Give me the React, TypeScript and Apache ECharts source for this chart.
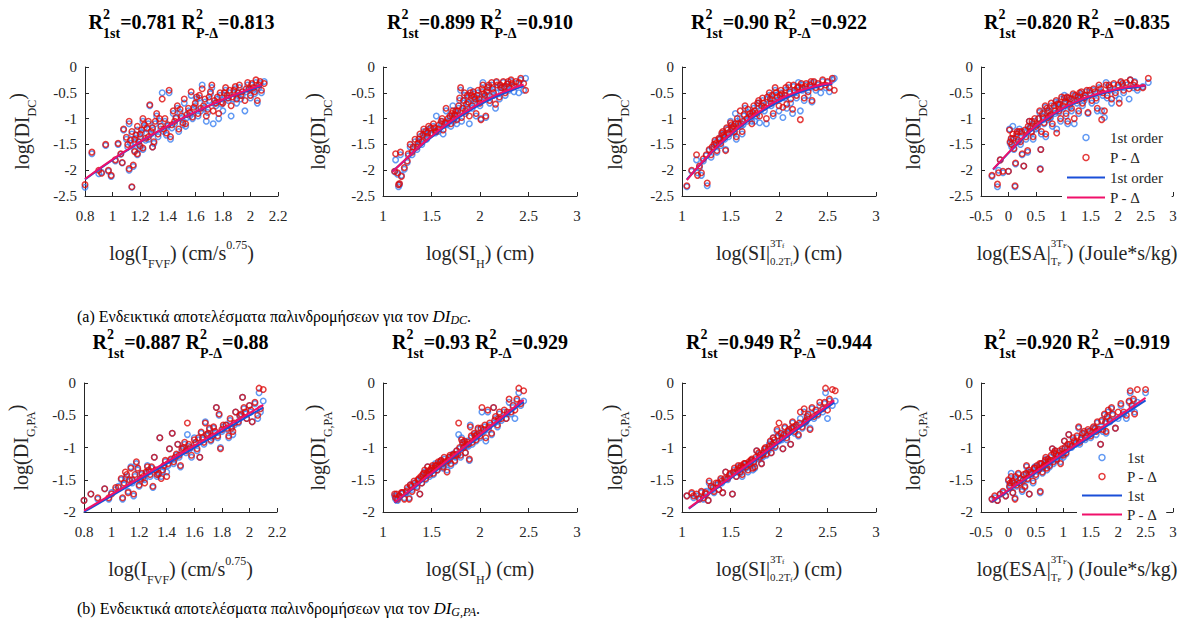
import React, { useEffect, useRef } from 'react';
import * as echarts from 'echarts';

const SERIF = "'Liberation Serif', 'Times New Roman', serif";
const TXT = '#262626';
const BLUE_PT = '#3a7ff0';
const RED_PT = '#dd0a0a';
const BLUE_LN = '#1a4fd8';
const PINK_LN = '#f0106a';

// ---- titles ----
const r2First = ['0.781', '0.899', '0.90', '0.820', '0.887', '0.93', '0.949', '0.920'];
const r2PDelta = ['0.813', '0.910', '0.922', '0.835', '0.88', '0.929', '0.944', '0.919'];

// ---- axes ----
const xRanges = [
  [0.8, 2.2, 0.2],
  [1, 3, 0.5],
  [1, 3, 0.5],
  [-0.5, 3, 0.5],
];
const yRanges = [
  [-2.5, 0, 0.5],
  [-2, 0, 0.5],
];

// ---- scatter points: [x, y (1st order), y (P-Delta)] ----
const panel1 = [
  [0.80, -2.33, -2.28], [0.85, -1.68, -1.65], [0.90, -2.07, -2.00], [0.92, -2.04, -2.06], [0.95, -1.52, -1.50],
  [0.97, -2.02, -2.00], [0.99, -2.12, -2.10], [1.02, -1.82, -1.80], [1.04, -1.50, -1.48], [1.06, -1.69, -1.68],
  [1.07, -1.86, -1.85], [1.12, -2.00, -1.97], [1.14, -2.33, -2.32], [1.15, -1.93, -1.90], [1.16, -1.62, -1.64],
  [1.18, -1.70, -1.68], [1.20, -1.58, -1.53], [1.22, -1.60, -1.57], [1.29, -1.55, -1.55],
  [1.08, -1.22, -1.20], [1.10, -1.40, -1.36], [1.12, -1.10, -1.05], [1.14, -1.30, -1.25], [1.16, -1.45, -1.40],
  [1.18, -1.22, -1.15], [1.20, -1.35, -1.30], [1.22, -1.05, -1.00], [1.24, -1.42, -1.38], [1.25, -1.20, -1.18],
  [1.26, -1.40, -1.35], [1.27, -0.75, -0.73], [1.28, -1.30, -1.25], [1.30, -1.48, -1.45], [1.31, -1.10, -1.05],
  [1.32, -0.95, -0.90], [1.33, -1.35, -1.30], [1.35, -1.20, -1.15], [1.36, -0.50, -0.62], [1.37, -1.25, -1.20],
  [1.38, -1.05, -1.00], [1.40, -1.15, -1.12], [1.41, -0.50, -0.45], [1.42, -1.40, -1.35], [1.44, -0.90, -0.85],
  [1.45, -1.10, -1.05], [1.46, -1.00, -0.98], [1.47, -0.80, -0.75], [1.48, -1.25, -1.20], [1.50, -1.00, -0.95],
  [1.52, -0.70, -0.62], [1.53, -1.15, -1.10], [1.55, -0.85, -0.80], [1.56, -0.95, -0.88], [1.57, -0.55, -0.48],
  [1.58, -1.00, -0.97], [1.60, -0.75, -0.70], [1.62, -0.95, -0.90], [1.63, -0.60, -0.55], [1.64, -0.85, -0.80],
  [1.65, -0.35, -0.42], [1.66, -0.80, -0.75], [1.68, -1.05, -0.95], [1.70, -0.65, -0.58], [1.72, -0.40, -0.35],
  [1.73, -1.10, -0.85], [1.74, -0.70, -0.65], [1.75, -0.75, -0.70], [1.77, -1.00, -0.90], [1.78, -0.55, -0.50],
  [1.80, -0.85, -0.70], [1.82, -0.45, -0.40], [1.83, -0.60, -0.55], [1.84, -0.65, -0.60], [1.86, -0.95, -0.75],
  [1.88, -0.50, -0.45], [1.90, -0.70, -0.62], [1.91, -0.55, -0.50], [1.92, -0.40, -0.35], [1.94, -0.55, -0.48],
  [1.96, -0.85, -0.65], [1.98, -0.35, -0.30], [1.99, -0.45, -0.42], [2.00, -0.60, -0.55], [2.02, -0.45, -0.40],
  [2.04, -0.30, -0.25], [2.05, -0.70, -0.65], [2.06, -0.40, -0.35], [2.08, -0.50, -0.45], [2.10, -0.28, -0.32],
  [1.11, -1.55, -1.50], [1.13, -1.48, -1.42], [1.17, -1.38, -1.32], [1.19, -1.50, -1.45], [1.21, -1.28, -1.22],
  [1.23, -1.18, -1.12], [1.26, -1.10, -1.05], [1.29, -1.22, -1.18], [1.34, -1.05, -1.00], [1.39, -1.32, -1.28],
  [1.43, -1.18, -1.12], [1.49, -0.88, -0.82], [1.51, -1.12, -1.08], [1.54, -0.98, -0.92], [1.59, -0.82, -0.78],
  [1.61, -0.62, -0.58], [1.67, -0.68, -0.62], [1.69, -0.88, -0.82], [1.71, -0.52, -0.48], [1.76, -0.62, -0.58],
  [1.79, -0.72, -0.68], [1.81, -0.55, -0.50], [1.85, -0.50, -0.45], [1.87, -0.62, -0.58], [1.89, -0.42, -0.38],
  [1.93, -0.62, -0.55], [1.97, -0.48, -0.42], [2.01, -0.35, -0.32], [2.03, -0.52, -0.48], [2.07, -0.32, -0.28],
];
const panel2 = [
  [1.12, -2.03, -2.02], [1.13, -1.80, -1.68], [1.15, -2.08, -2.05], [1.16, -2.32, -2.28], [1.17, -2.28, -2.26],
  [1.18, -1.70, -1.65], [1.19, -2.10, -2.12], [1.22, -1.98, -1.95], [1.25, -1.85, -1.82], [1.28, -1.55, -1.50],
  [1.30, -1.70, -1.65], [1.33, -1.45, -1.40], [1.35, -1.60, -1.55], [1.38, -1.35, -1.30], [1.40, -1.50, -1.45],
  [1.42, -1.25, -1.20], [1.45, -1.40, -1.35], [1.47, -1.20, -1.15], [1.50, -1.30, -1.28], [1.52, -1.15, -1.10],
  [1.55, -0.95, -1.25], [1.57, -1.25, -1.20], [1.60, -1.10, -1.05], [1.62, -1.30, -1.22], [1.65, -0.85, -0.80],
  [1.67, -1.05, -1.00], [1.70, -1.15, -1.10], [1.72, -0.75, -0.85], [1.74, -0.95, -0.92], [1.76, -1.10, -1.02],
  [1.78, -0.80, -0.75], [1.80, -0.45, -0.40], [1.81, -1.05, -0.98], [1.83, -0.70, -0.65], [1.85, -0.90, -0.85],
  [1.87, -0.60, -0.55], [1.89, -1.10, -0.95], [1.90, -0.45, -0.50], [1.92, -0.80, -0.75], [1.94, -0.65, -0.58],
  [1.96, -0.95, -0.90], [1.98, -0.50, -0.45], [2.00, -0.75, -0.70], [2.01, -1.00, -1.02], [2.03, -0.30, -0.35],
  [2.05, -0.60, -0.55], [2.06, -0.98, -0.95], [2.08, -0.45, -0.40], [2.10, -0.70, -0.65], [2.12, -0.35, -0.30],
  [2.14, -0.55, -0.50], [2.16, -0.80, -0.72], [2.18, -0.40, -0.35], [2.20, -0.62, -0.58], [2.22, -0.48, -0.40],
  [2.24, -0.30, -0.28], [2.26, -0.55, -0.50], [2.28, -0.38, -0.33], [2.30, -0.45, -0.40], [2.32, -0.28, -0.25],
  [2.35, -0.48, -0.38], [2.37, -0.32, -0.28], [2.40, -0.50, -0.30], [2.42, -0.25, -0.22], [2.45, -0.45, -0.32],
  [2.47, -0.22, -0.45], [1.36, -1.52, -1.48], [1.44, -1.28, -1.25], [1.53, -1.22, -1.18], [1.64, -1.12, -1.08],
  [1.69, -0.98, -0.95], [1.75, -0.88, -0.85], [1.86, -0.78, -0.72], [1.95, -0.70, -0.62], [2.04, -0.58, -0.52],
  [1.26, -1.72, -1.68], [1.31, -1.58, -1.55], [1.37, -1.45, -1.40], [1.41, -1.38, -1.32], [1.46, -1.32, -1.28],
  [1.49, -1.22, -1.18], [1.54, -1.28, -1.25], [1.58, -1.18, -1.12], [1.61, -1.05, -1.00], [1.66, -1.12, -1.08],
  [1.71, -0.95, -0.90], [1.73, -1.05, -1.00], [1.77, -0.92, -0.85], [1.79, -0.65, -0.60], [1.82, -0.85, -0.80],
  [1.84, -0.55, -0.50], [1.88, -0.72, -0.68], [1.91, -0.62, -0.55], [1.93, -0.52, -0.48], [1.97, -0.60, -0.55],
  [1.99, -0.68, -0.62], [2.02, -0.48, -0.42], [2.07, -0.55, -0.48], [2.09, -0.38, -0.35], [2.13, -0.48, -0.42],
  [2.17, -0.30, -0.28], [2.21, -0.40, -0.35], [2.25, -0.42, -0.38], [2.29, -0.32, -0.28], [2.33, -0.38, -0.32],
];
const panel3 = [
  [1.05, -2.32, -2.30], [1.10, -2.02, -2.00], [1.15, -1.80, -1.70], [1.16, -2.05, -2.10], [1.18, -1.95, -1.92],
  [1.20, -2.10, -2.05], [1.26, -2.30, -2.25], [1.28, -1.62, -1.60], [1.30, -1.75, -1.70], [1.33, -1.55, -1.50],
  [1.36, -1.65, -1.62], [1.38, -1.40, -1.38], [1.40, -1.52, -1.48], [1.42, -1.30, -1.25], [1.45, -1.60, -1.62],
  [1.46, -1.20, -1.18], [1.48, -1.35, -1.30], [1.50, -1.05, -1.08], [1.52, -1.25, -1.20], [1.55, -0.90, -1.10],
  [1.56, -1.40, -1.35], [1.58, -1.15, -1.10], [1.60, -1.00, -0.85], [1.62, -1.30, -1.25], [1.65, -0.80, -0.75],
  [1.67, -1.05, -1.00], [1.70, -0.95, -0.90], [1.72, -1.05, -1.10], [1.75, -1.05, -0.85], [1.78, -0.75, -0.70],
  [1.80, -1.08, -0.95], [1.83, -0.65, -0.60], [1.85, -0.85, -0.78], [1.87, -1.10, -1.00], [1.90, -0.55, -0.50],
  [1.92, -0.75, -0.70], [1.94, -0.95, -0.90], [1.96, -0.45, -0.40], [1.98, -0.65, -0.58], [2.00, -0.85, -0.75],
  [2.02, -0.50, -0.45], [2.04, -0.98, -0.78], [2.06, -0.60, -0.55], [2.08, -0.80, -0.72], [2.10, -0.40, -0.35],
  [2.12, -0.70, -0.62], [2.14, -0.90, -0.82], [2.16, -0.50, -0.45], [2.18, -0.60, -0.55], [2.20, -0.30, -0.38],
  [2.22, -0.85, -1.02], [2.24, -0.45, -0.40], [2.26, -0.65, -0.60], [2.28, -0.35, -0.32], [2.30, -0.55, -0.48],
  [2.32, -0.40, -0.35], [2.34, -0.68, -0.65], [2.36, -0.30, -0.28], [2.38, -0.45, -0.40], [2.40, -0.35, -0.32],
  [2.43, -0.50, -0.38], [2.45, -0.28, -0.25], [2.48, -0.40, -0.35], [2.50, -0.30, -0.28], [2.52, -0.48, -0.40],
  [2.55, -0.25, -0.22], [2.57, -0.22, -0.45], [1.34, -1.45, -1.42], [1.43, -1.38, -1.32], [1.53, -1.18, -1.15],
  [1.63, -1.12, -1.05], [1.73, -0.92, -0.88], [1.82, -0.82, -0.75], [1.91, -0.68, -0.62], [2.01, -0.62, -0.55],
  [1.22, -1.82, -1.78], [1.25, -1.72, -1.70], [1.31, -1.58, -1.55], [1.35, -1.52, -1.48], [1.39, -1.45, -1.40],
  [1.41, -1.32, -1.28], [1.44, -1.40, -1.35], [1.47, -1.28, -1.22], [1.51, -1.18, -1.12], [1.54, -1.28, -1.25],
  [1.57, -1.05, -1.00], [1.61, -1.15, -1.10], [1.64, -0.95, -0.92], [1.68, -0.88, -0.82], [1.71, -1.00, -0.95],
  [1.74, -0.80, -0.75], [1.77, -0.95, -0.90], [1.79, -0.70, -0.65], [1.84, -0.75, -0.70], [1.88, -0.62, -0.58],
  [1.93, -0.62, -0.55], [1.97, -0.55, -0.50], [2.03, -0.58, -0.52], [2.07, -0.45, -0.40], [2.11, -0.52, -0.48],
  [2.15, -0.38, -0.35], [2.19, -0.45, -0.40], [2.23, -0.35, -0.32], [2.27, -0.42, -0.38], [2.33, -0.32, -0.28],
];
const panel4 = [
  [-0.30, -2.12, -2.10], [-0.20, -2.32, -2.27], [-0.18, -2.00, -2.05], [-0.15, -1.80, -1.80], [-0.10, -2.05, -2.02],
  [0.00, -2.02, -2.02], [0.02, -1.20, -1.22], [0.05, -1.40, -1.38], [0.06, -1.55, -1.50], [0.08, -1.15, -1.30],
  [0.10, -1.60, -1.58], [0.12, -2.32, -2.30], [0.13, -1.88, -1.86], [0.15, -1.35, -1.30], [0.18, -1.45, -1.42],
  [0.20, -1.20, -1.25], [0.25, -1.70, -1.68], [0.28, -1.92, -1.92], [0.30, -1.25, -1.22], [0.35, -1.65, -1.62],
  [0.38, -1.05, -1.05], [0.40, -1.15, -1.18], [0.45, -1.40, -1.35], [0.50, -1.20, -1.15], [0.55, -1.00, -1.00],
  [0.58, -1.97, -1.98], [0.59, -1.60, -1.60], [0.60, -1.30, -1.25], [0.62, -0.95, -0.90], [0.65, -1.10, -1.08],
  [0.68, -1.35, -1.30], [0.70, -0.85, -0.80], [0.75, -1.00, -0.95], [0.78, -0.75, -0.70], [0.80, -1.15, -1.10],
  [0.85, -0.90, -0.85], [0.88, -1.20, -1.28], [0.90, -0.70, -0.72], [0.95, -1.05, -1.00], [1.00, -0.80, -0.75],
  [1.02, -0.55, -0.60], [1.05, -0.95, -0.90], [1.08, -1.10, -1.05], [1.10, -0.65, -0.60], [1.15, -0.85, -0.80],
  [1.18, -0.55, -0.52], [1.20, -1.10, -1.00], [1.25, -0.70, -0.65], [1.28, -0.90, -0.85], [1.30, -0.55, -0.50],
  [1.35, -0.75, -0.70], [1.40, -0.60, -0.55], [1.45, -0.90, -0.88], [1.48, -0.50, -0.45], [1.52, -0.70, -0.65],
  [1.55, -0.45, -0.42], [1.60, -0.65, -0.60], [1.62, -0.85, -0.80], [1.65, -0.40, -0.35], [1.70, -0.85, -1.02],
  [1.72, -0.55, -0.50], [1.75, -0.98, -0.85], [1.78, -0.30, -0.35], [1.80, -0.60, -0.55], [1.85, -0.45, -0.40],
  [1.88, -0.70, -0.62], [1.92, -0.35, -0.32], [1.95, -0.55, -0.50], [2.00, -0.40, -0.35], [2.02, -0.62, -0.70],
  [2.05, -0.30, -0.28], [2.10, -0.50, -0.45], [2.15, -0.35, -0.30], [2.20, -0.62, -0.42], [2.22, -0.25, -0.25],
  [2.28, -0.40, -0.35], [2.30, -0.28, -0.30], [2.35, -0.45, -0.40], [2.45, -0.38, -0.40], [2.55, -0.30, -0.22],
  [0.22, -1.50, -1.45], [0.42, -1.28, -1.25], [0.72, -1.02, -0.98], [0.92, -0.88, -0.85], [1.12, -0.78, -0.72],
  [0.03, -1.48, -1.45], [0.09, -1.42, -1.38], [0.16, -1.28, -1.25], [0.24, -1.28, -1.25], [0.32, -1.40, -1.35],
  [0.36, -1.20, -1.15], [0.43, -1.10, -1.05], [0.48, -1.05, -1.00], [0.53, -1.18, -1.12], [0.57, -0.88, -0.85],
  [0.63, -1.02, -0.98], [0.67, -0.78, -0.75], [0.73, -0.88, -0.85], [0.77, -0.98, -0.92], [0.83, -0.80, -0.75],
  [0.87, -0.68, -0.65], [0.93, -0.78, -0.72], [0.97, -0.62, -0.58], [1.03, -0.72, -0.68], [1.07, -0.60, -0.58],
  [1.13, -0.68, -0.62], [1.22, -0.58, -0.55], [1.27, -0.62, -0.58], [1.33, -0.52, -0.48], [1.38, -0.65, -0.60],
  [1.43, -0.48, -0.45], [1.58, -0.52, -0.48], [1.68, -0.48, -0.42], [1.83, -0.38, -0.35], [2.08, -0.35, -0.32],
];
const panel5 = [
  [0.80, -1.82, -1.82], [0.85, -1.72, -1.72], [0.90, -1.80, -1.78], [0.95, -1.64, -1.64], [0.98, -1.80, -1.78],
  [1.00, -1.70, -1.72], [1.03, -1.65, -1.62], [1.05, -1.60, -1.62], [1.07, -1.50, -1.48], [1.08, -1.80, -1.78],
  [1.10, -1.48, -1.38], [1.12, -1.68, -1.70], [1.14, -1.30, -1.32], [1.15, -1.55, -1.50], [1.16, -1.75, -1.72],
  [1.18, -1.25, -1.22], [1.20, -1.60, -1.58], [1.22, -1.42, -1.40], [1.24, -1.50, -1.55], [1.26, -1.28, -1.30],
  [1.28, -1.45, -1.42], [1.30, -1.62, -1.60], [1.31, -1.15, -1.15], [1.32, -1.35, -1.35], [1.35, -0.85, -0.85],
  [1.36, -1.45, -1.48], [1.38, -1.30, -1.28], [1.40, -1.38, -1.45], [1.42, -1.02, -1.02], [1.44, -0.78, -0.78],
  [1.45, -1.25, -1.22], [1.47, -1.12, -1.10], [1.48, -0.95, -0.95], [1.50, -1.30, -1.28], [1.52, -1.02, -1.00],
  [1.55, -0.80, -0.62], [1.56, -0.98, -0.95], [1.58, -1.15, -1.12], [1.60, -0.85, -0.88], [1.62, -1.05, -1.02],
  [1.64, -1.15, -1.15], [1.65, -0.78, -0.76], [1.67, -0.95, -0.92], [1.68, -0.60, -0.62], [1.70, -0.80, -0.78],
  [1.72, -0.90, -0.88], [1.74, -0.70, -0.68], [1.76, -0.38, -0.38], [1.77, -0.85, -0.82], [1.78, -0.50, -0.48],
  [1.79, -1.00, -1.02], [1.80, -0.75, -0.72], [1.83, -0.65, -0.65], [1.85, -0.85, -0.82], [1.87, -0.68, -0.70],
  [1.88, -0.80, -0.75], [1.90, -0.45, -0.45], [1.92, -0.62, -0.60], [1.94, -0.50, -0.48], [1.95, -0.22, -0.22],
  [1.96, -0.40, -0.38], [1.98, -0.55, -0.55], [2.00, -0.35, -0.35], [2.02, -0.60, -0.60], [2.04, -0.32, -0.30],
  [2.06, -0.55, -0.50], [2.07, -0.15, -0.08], [2.08, -0.45, -0.40], [2.10, -0.28, -0.10], [1.21, -1.52, -1.48],
  [1.27, -1.38, -1.35], [1.34, -1.42, -1.40], [1.46, -1.18, -1.15], [1.54, -1.08, -1.05], [1.66, -0.88, -0.85],
  [1.09, -1.58, -1.55], [1.11, -1.45, -1.42], [1.13, -1.52, -1.50], [1.17, -1.45, -1.42], [1.19, -1.35, -1.32],
  [1.23, -1.48, -1.45], [1.25, -1.40, -1.38], [1.29, -1.32, -1.30], [1.33, -1.45, -1.42], [1.37, -1.38, -1.35],
  [1.39, -1.22, -1.20], [1.41, -1.28, -1.25], [1.43, -1.20, -1.18], [1.49, -1.15, -1.12], [1.51, -1.05, -1.02],
  [1.53, -0.95, -0.92], [1.57, -1.02, -1.00], [1.61, -0.95, -0.92], [1.63, -0.88, -0.85], [1.69, -0.82, -0.80],
  [1.71, -0.72, -0.70], [1.73, -0.85, -0.82], [1.75, -0.78, -0.75], [1.81, -0.68, -0.65], [1.84, -0.72, -0.70],
  [1.86, -0.58, -0.55], [1.89, -0.65, -0.62], [1.93, -0.52, -0.50], [1.97, -0.48, -0.45], [2.01, -0.45, -0.42],
];
const panel6 = [
  [1.12, -1.75, -1.72], [1.13, -1.80, -1.78], [1.15, -1.82, -1.80], [1.17, -1.75, -1.75], [1.20, -1.70, -1.70],
  [1.22, -1.78, -1.80], [1.25, -1.65, -1.62], [1.27, -1.78, -1.80], [1.28, -1.58, -1.58], [1.30, -1.65, -1.68],
  [1.32, -1.55, -1.52], [1.35, -1.60, -1.62], [1.37, -1.50, -1.48], [1.38, -1.72, -1.72], [1.40, -1.55, -1.55],
  [1.42, -1.40, -1.40], [1.44, -1.50, -1.48], [1.46, -1.30, -1.30], [1.48, -1.45, -1.42], [1.50, -1.35, -1.32],
  [1.52, -1.42, -1.40], [1.54, -1.25, -1.28], [1.56, -1.35, -1.35], [1.58, -1.30, -1.28], [1.60, -1.20, -1.20],
  [1.62, -1.32, -1.30], [1.64, -1.25, -1.22], [1.66, -1.35, -1.38], [1.68, -1.18, -1.15], [1.70, -1.28, -1.25],
  [1.72, -1.10, -1.12], [1.74, -1.22, -1.20], [1.76, -1.05, -1.05], [1.78, -0.80, -0.62], [1.80, -1.15, -1.12],
  [1.81, -0.85, -0.88], [1.83, -1.00, -1.00], [1.85, -1.08, -1.08], [1.87, -0.90, -0.92], [1.89, -1.20, -1.18],
  [1.90, -0.65, -0.68], [1.92, -0.95, -0.92], [1.94, -0.80, -0.78], [1.96, -0.90, -0.88], [1.98, -0.72, -0.70],
  [2.00, -0.85, -0.82], [2.02, -0.45, -0.38], [2.04, -0.75, -0.72], [2.06, -0.90, -0.85], [2.08, -0.45, -0.42],
  [2.10, -0.65, -0.62], [2.12, -0.80, -0.78], [2.14, -0.38, -0.38], [2.16, -0.55, -0.52], [2.18, -0.68, -0.65],
  [2.20, -0.48, -0.45], [2.22, -0.58, -0.55], [2.25, -0.45, -0.42], [2.27, -0.55, -0.55], [2.30, -0.30, -0.25],
  [2.32, -0.48, -0.45], [2.34, -0.38, -0.35], [2.36, -0.55, -0.42], [2.38, -0.28, -0.25], [2.40, -0.15, -0.08],
  [2.42, -0.35, -0.32], [2.45, -0.28, -0.12], [1.47, -1.38, -1.36], [1.57, -1.25, -1.22], [1.67, -1.22, -1.20],
  [1.77, -1.12, -1.10], [1.86, -0.98, -0.95], [1.95, -0.85, -0.82], [2.05, -0.68, -0.65], [2.15, -0.62, -0.58],
  [1.14, -1.75, -1.72], [1.19, -1.72, -1.70], [1.24, -1.70, -1.68], [1.29, -1.62, -1.60], [1.33, -1.58, -1.55],
  [1.36, -1.52, -1.50], [1.39, -1.48, -1.45], [1.41, -1.45, -1.42], [1.43, -1.38, -1.35], [1.45, -1.42, -1.40],
  [1.49, -1.38, -1.35], [1.51, -1.30, -1.28], [1.53, -1.35, -1.32], [1.55, -1.30, -1.28], [1.59, -1.25, -1.22],
  [1.61, -1.28, -1.25], [1.63, -1.18, -1.15], [1.69, -1.15, -1.12], [1.73, -1.12, -1.10], [1.75, -1.15, -1.12],
  [1.79, -1.02, -1.00], [1.82, -0.95, -0.92], [1.84, -0.92, -0.90], [1.88, -0.98, -0.95], [1.91, -0.85, -0.82],
  [1.97, -0.82, -0.80], [2.01, -0.72, -0.70], [2.09, -0.72, -0.68], [2.19, -0.58, -0.55], [2.28, -0.48, -0.45],
];
const panel7 = [
  [1.05, -1.75, -1.75], [1.10, -1.72, -1.70], [1.15, -1.75, -1.72], [1.18, -1.78, -1.80], [1.20, -1.70, -1.68],
  [1.22, -1.80, -1.78], [1.25, -1.68, -1.72], [1.27, -1.82, -1.82], [1.28, -1.55, -1.52], [1.30, -1.62, -1.60],
  [1.33, -1.70, -1.68], [1.35, -1.58, -1.55], [1.38, -1.65, -1.65], [1.40, -1.50, -1.48], [1.42, -1.70, -1.70],
  [1.45, -1.38, -1.38], [1.47, -1.50, -1.48], [1.50, -1.42, -1.40], [1.52, -1.72, -1.72], [1.54, -1.35, -1.32],
  [1.56, -1.45, -1.45], [1.58, -1.30, -1.28], [1.60, -1.40, -1.38], [1.63, -1.32, -1.30], [1.65, -1.25, -1.25],
  [1.68, -1.38, -1.35], [1.70, -1.28, -1.25], [1.72, -1.20, -1.18], [1.75, -1.32, -1.30], [1.77, -1.05, -1.05],
  [1.80, -1.18, -1.15], [1.82, -1.25, -1.25], [1.85, -1.05, -1.02], [1.87, -1.12, -1.10], [1.90, -0.95, -0.98],
  [1.92, -1.08, -1.08], [1.94, -0.85, -0.85], [1.96, -1.00, -0.98], [1.98, -0.75, -0.72], [2.00, -0.90, -0.62],
  [2.02, -0.80, -0.78], [2.04, -1.02, -1.02], [2.06, -0.70, -0.68], [2.08, -0.88, -0.85], [2.10, -0.75, -0.72],
  [2.12, -0.95, -0.95], [2.14, -0.62, -0.60], [2.16, -0.78, -0.75], [2.18, -0.68, -0.65], [2.20, -0.82, -0.80],
  [2.22, -0.55, -0.45], [2.24, -0.70, -0.68], [2.26, -0.45, -0.40], [2.28, -0.60, -0.58], [2.30, -0.50, -0.48],
  [2.32, -0.70, -0.72], [2.34, -0.40, -0.38], [2.36, -0.55, -0.52], [2.38, -0.45, -0.42], [2.40, -0.50, -0.48],
  [2.42, -0.35, -0.30], [2.45, -0.45, -0.40], [2.47, -0.32, -0.30], [2.48, -0.15, -0.08], [2.50, -0.55, -0.42],
  [2.52, -0.28, -0.25], [2.55, -0.35, -0.10], [2.58, -0.28, -0.12], [1.62, -1.45, -1.42], [1.73, -1.35, -1.32],
  [1.83, -1.15, -1.12], [1.93, -0.98, -0.95], [2.03, -0.88, -0.85], [2.13, -0.72, -0.70], [2.27, -0.62, -0.60],
  [1.12, -1.78, -1.75], [1.24, -1.72, -1.70], [1.32, -1.65, -1.62], [1.37, -1.58, -1.55], [1.41, -1.55, -1.52],
  [1.44, -1.50, -1.48], [1.49, -1.45, -1.42], [1.53, -1.40, -1.38], [1.57, -1.38, -1.35], [1.59, -1.35, -1.32],
  [1.61, -1.30, -1.28], [1.64, -1.28, -1.25], [1.66, -1.32, -1.30], [1.69, -1.25, -1.22], [1.71, -1.22, -1.20],
  [1.74, -1.25, -1.22], [1.76, -1.18, -1.15], [1.79, -1.10, -1.08], [1.81, -1.15, -1.12], [1.84, -1.10, -1.08],
  [1.86, -1.02, -1.00], [1.89, -1.05, -1.02], [1.91, -0.92, -0.90], [1.95, -0.92, -0.88], [1.99, -0.85, -0.82],
  [2.05, -0.82, -0.80], [2.09, -0.78, -0.75], [2.15, -0.70, -0.68], [2.21, -0.65, -0.62], [2.29, -0.55, -0.52],
];
const panel8 = [
  [-0.30, -1.80, -1.80], [-0.20, -1.82, -1.82], [-0.15, -1.72, -1.72], [-0.05, -1.75, -1.75], [0.00, -1.52, -1.50],
  [0.02, -1.62, -1.60], [0.05, -1.40, -1.45], [0.08, -1.70, -1.70], [0.10, -1.50, -1.55], [0.12, -1.78, -1.80],
  [0.15, -1.60, -1.58], [0.18, -1.42, -1.40], [0.20, -1.55, -1.55], [0.25, -1.68, -1.65], [0.28, -1.45, -1.42],
  [0.30, -1.62, -1.60], [0.33, -1.30, -1.28], [0.35, -1.50, -1.48], [0.38, -1.72, -1.72], [0.40, -1.40, -1.38],
  [0.45, -1.55, -1.52], [0.48, -1.30, -1.32], [0.50, -1.45, -1.42], [0.55, -1.35, -1.35], [0.58, -1.70, -1.68],
  [0.60, -1.25, -1.25], [0.62, -1.40, -1.38], [0.65, -1.28, -1.28], [0.70, -1.35, -1.32], [0.72, -1.20, -1.18],
  [0.75, -1.30, -1.28], [0.78, -1.15, -1.12], [0.80, -1.02, -1.02], [0.82, -1.25, -1.22], [0.85, -1.05, -1.05],
  [0.88, -1.20, -1.18], [0.90, -1.15, -1.12], [0.95, -1.22, -1.25], [0.98, -1.05, -1.02], [1.00, -1.15, -1.12],
  [1.02, -0.90, -0.90], [1.05, -1.10, -1.08], [1.08, -0.98, -0.95], [1.10, -0.80, -0.80], [1.15, -1.00, -0.98],
  [1.20, -0.92, -0.90], [1.25, -0.85, -0.82], [1.28, -0.70, -0.68], [1.30, -0.95, -0.92], [1.35, -0.80, -0.78],
  [1.40, -0.88, -0.85], [1.45, -0.75, -0.72], [1.50, -0.85, -0.82], [1.55, -0.70, -0.68], [1.60, -0.80, -0.75],
  [1.62, -0.62, -0.60], [1.65, -0.72, -0.72], [1.68, -0.95, -0.95], [1.70, -0.60, -0.58], [1.72, -0.75, -0.72],
  [1.75, -0.50, -0.48], [1.78, -0.78, -0.75], [1.80, -0.55, -0.52], [1.82, -0.45, -0.42], [1.85, -0.60, -0.58],
  [1.88, -0.40, -0.38], [1.90, -0.50, -0.48], [1.95, -0.70, -0.70], [2.00, -0.55, -0.45], [2.05, -0.35, -0.32],
  [2.10, -0.48, -0.45], [2.15, -0.55, -0.50], [2.20, -0.30, -0.28], [2.22, -0.15, -0.12], [2.25, -0.40, -0.35],
  [2.28, -0.28, -0.25], [2.30, -0.45, -0.48], [2.35, -0.30, -0.10], [2.50, -0.15, -0.10], [0.68, -1.18, -1.15],
  [-0.25, -1.78, -1.75], [-0.10, -1.70, -1.68], [0.03, -1.58, -1.55], [0.07, -1.55, -1.52], [0.13, -1.48, -1.45],
  [0.22, -1.50, -1.48], [0.27, -1.52, -1.50], [0.32, -1.42, -1.40], [0.37, -1.38, -1.35], [0.42, -1.42, -1.40],
  [0.47, -1.35, -1.32], [0.52, -1.30, -1.28], [0.57, -1.28, -1.25], [0.63, -1.32, -1.30], [0.67, -1.22, -1.20],
  [0.73, -1.25, -1.22], [0.77, -1.22, -1.20], [0.83, -1.10, -1.08], [0.87, -1.12, -1.10], [0.93, -1.08, -1.05],
  [0.97, -1.12, -1.10], [1.03, -1.02, -1.00], [1.12, -0.98, -0.95], [1.18, -0.88, -0.85], [1.23, -0.95, -0.92],
  [1.33, -0.88, -0.85], [1.38, -0.78, -0.75], [1.48, -0.78, -0.75], [1.58, -0.72, -0.70], [1.77, -0.62, -0.60],
];
const panels = [panel1, panel2, panel3, panel4, panel5, panel6, panel7, panel8];

// ---- fitted regression lines: x, y (1st order), y (P-Delta) ----
const fitX = [
  [0.8, 1.0, 1.2, 1.4, 1.6, 1.8, 2.0, 2.08],
  [1.1, 1.3, 1.5, 1.7, 1.9, 2.1, 2.3, 2.45],
  [1.05, 1.2, 1.4, 1.6, 1.8, 2.0, 2.2, 2.4, 2.55],
  [-0.28, 0, 0.25, 0.5, 0.75, 1, 1.25, 1.5, 1.75, 2, 2.25, 2.5],
  [0.8, 2.1],
  [1.12, 2.45],
  [1.07, 2.57],
  [-0.3, 2.5],
];
const fitFirst = [
  [-2.18, -1.80, -1.46, -1.15, -0.88, -0.64, -0.44, -0.37],
  [-2.02, -1.68, -1.36, -1.08, -0.84, -0.63, -0.47, -0.37],
  [-2.18, -1.87, -1.49, -1.16, -0.89, -0.67, -0.50, -0.38, -0.33],
  [-1.99, -1.67, -1.40, -1.16, -0.97, -0.81, -0.68, -0.58, -0.50, -0.44, -0.40, -0.37],
  [-2.0, -0.38],
  [-1.86, -0.29],
  [-1.95, -0.30],
  [-1.84, -0.27],
];
const fitPDelta = [
  [-2.17, -1.79, -1.45, -1.14, -0.87, -0.63, -0.42, -0.35],
  [-2.03, -1.67, -1.34, -1.05, -0.81, -0.60, -0.44, -0.34],
  [-2.19, -1.86, -1.47, -1.14, -0.86, -0.63, -0.47, -0.36, -0.31],
  [-1.98, -1.66, -1.38, -1.14, -0.95, -0.79, -0.66, -0.56, -0.48, -0.42, -0.38, -0.36],
  [-1.98, -0.34],
  [-1.85, -0.26],
  [-1.94, -0.27],
  [-1.83, -0.23],
];

const topNames = ['1st order', 'P - Δ', '1st order ', 'P - Δ '];
const botNames = ['1st', 'P - Δ', '1st ', 'P - Δ '];

// ---- layout ----
const colLeft = [[85, 383, 682, 981], [84, 383, 682, 981]];
const colWidth = [193, 194, 194, 192];
const rowTop = [67, 383];
const rowHeight = 129;
const yLabelOffset = [63, 65, 67, 68];

// ---- text helpers ----
let measureCtx: CanvasRenderingContext2D | null = null;
function measure(text: string, font: string) {
  if (!measureCtx) measureCtx = document.createElement('canvas').getContext('2d');
  measureCtx!.font = font;
  return measureCtx!.measureText(text).width;
}
type Piece = { t: string; s: number; dy?: number; b?: boolean; i?: boolean; st?: 'start' | 'reset' | 'end' | 'resetend' };
function richGroup(pieces: Piece[], x: number, y: number, align: 'center' | 'left', rotation = 0, fill = TXT) {
  let cx = 0, mark = 0, maxX = 0;
  const items: any[] = [];
  for (const p of pieces) {
    if (p.st === 'start') mark = cx;
    if (p.st === 'reset' || p.st === 'resetend') { maxX = cx; cx = mark; }
    const font = `${p.i ? 'italic ' : ''}${p.b ? 'bold ' : ''}${p.s}px ${SERIF}`;
    items.push({ x: cx, y: p.dy || 0, font, t: p.t });
    cx += measure(p.t, font);
    if (p.st === 'end' || p.st === 'resetend') cx = Math.max(cx, maxX);
  }
  const off = align === 'center' ? cx / 2 : 0;
  return {
    type: 'group', x, y, rotation, silent: true,
    children: items.map((it) => ({
      type: 'text', x: it.x - off, y: it.y, silent: true,
      style: { text: it.t, font: it.font, fill, textAlign: 'left', textVerticalAlign: 'middle' },
    })),
  };
}
const titlePieces = (a: string, b: string): Piece[] => [
  { t: 'R', s: 20, b: true },
  { t: '2', s: 14, b: true, dy: -8, st: 'start' },
  { t: '1st', s: 14, b: true, dy: 11, st: 'resetend' },
  { t: `=${a} R`, s: 20, b: true },
  { t: '2', s: 14, b: true, dy: -8, st: 'start' },
  { t: 'P-Δ', s: 14, b: true, dy: 11, st: 'resetend' },
  { t: `=${b}`, s: 20, b: true },
];
const xLabelPieces: Piece[][] = [
  [{ t: 'log(I', s: 20 }, { t: 'FVF', s: 12, dy: 11 }, { t: ') (cm/s', s: 20 }, { t: '0.75', s: 12, dy: -8 }, { t: ')', s: 20 }],
  [{ t: 'log(SI', s: 20 }, { t: 'H', s: 12, dy: 11 }, { t: ') (cm)', s: 20 }],
  [{ t: 'log(SI', s: 20 }, { t: '|', s: 20 }, { t: '3T', s: 11, dy: -10, st: 'start' }, { t: 'f', s: 7, dy: -7 },
   { t: '0.2T', s: 11, dy: 8, st: 'reset' }, { t: 'f', s: 7, dy: 11, st: 'end' }, { t: ') (cm)', s: 20 }],
  [{ t: 'log(ESA', s: 20 }, { t: '|', s: 20 }, { t: '3T', s: 11, dy: -10, st: 'start' }, { t: 'F', s: 7, dy: -7 },
   { t: 'T', s: 11, dy: 8, st: 'reset' }, { t: 'F', s: 7, dy: 11, st: 'end' }, { t: ') (Joule*s/kg)', s: 20 }],
];
const yLabelPieces: Piece[][] = [
  [{ t: 'log(DI', s: 20 }, { t: 'DC', s: 12, dy: 10 }, { t: ')', s: 20, dy: -5 }],
  [{ t: 'log(DI', s: 20 }, { t: 'G,PA', s: 12, dy: 10 }, { t: ')', s: 20, dy: -5 }],
];
const captionText = 'Ενδεικτικά αποτελέσματα παλινδρομήσεων για τον ';
const captions: Piece[][] = [
  [{ t: '(a) ' + captionText, s: 16 }, { t: 'DI', s: 17, i: true }, { t: 'DC', s: 12, i: true, dy: 4 }, { t: '.', s: 16 }],
  [{ t: '(b) ' + captionText, s: 16 }, { t: 'DI', s: 17, i: true }, { t: 'G,PA', s: 12, i: true, dy: 4 }, { t: '.', s: 16 }],
];

function buildOption() {
  const grid: any[] = [], xAxis: any[] = [], yAxis: any[] = [], series: any[] = [], graphic: any[] = [];
  for (let k = 0; k < 8; k++) {
    const row = Math.floor(k / 4), col = k % 4;
    const left = colLeft[row][col], top = rowTop[row], width = colWidth[col];
    grid.push({ left, top, width, height: rowHeight });
    const [xmin, xmax, xint] = xRanges[col];
    const [ymin, ymax, yint] = yRanges[row];
    const axisCommon = {
      gridIndex: k, type: 'value',
      axisLine: { show: true, onZero: false, lineStyle: { color: TXT, width: 1 } },
      axisTick: { show: true, inside: true, length: 4, lineStyle: { color: TXT } },
      splitLine: { show: false },
    };
    xAxis.push({ ...axisCommon, min: xmin, max: xmax, interval: xint,
      axisLabel: { fontFamily: SERIF, fontSize: 15, color: TXT, margin: 12 } });
    yAxis.push({ ...axisCommon, min: ymin, max: ymax, interval: yint,
      axisLabel: { fontFamily: SERIF, fontSize: 15, color: TXT, margin: 8 } });
    const names = row === 0 ? topNames : botNames;
    const pts = panels[k];
    const ptStyle = (c: string) => ({ color: 'rgba(0,0,0,0)', borderColor: c, borderWidth: 1.5 });
    series.push({ type: 'scatter', name: names[0], xAxisIndex: k, yAxisIndex: k, symbol: 'circle', symbolSize: 5.5,
      itemStyle: ptStyle(BLUE_PT), data: pts.map((p) => [p[0], p[1]]), silent: true });
    series.push({ type: 'scatter', name: names[1], xAxisIndex: k, yAxisIndex: k, symbol: 'circle', symbolSize: 5.5,
      itemStyle: ptStyle(RED_PT), data: pts.map((p) => [p[0], p[2]]), silent: true });
    const curved = fitX[k].length > 2;
    series.push({ type: 'line', name: names[2], xAxisIndex: k, yAxisIndex: k, symbol: 'none', smooth: curved,
      lineStyle: { color: BLUE_LN, width: 2 }, itemStyle: { color: BLUE_LN },
      data: fitX[k].map((x, i) => [x, fitFirst[k][i]]), silent: true });
    series.push({ type: 'line', name: names[3], xAxisIndex: k, yAxisIndex: k, symbol: 'none', smooth: curved,
      lineStyle: { color: PINK_LN, width: 2 }, itemStyle: { color: PINK_LN },
      data: fitX[k].map((x, i) => [x, fitPDelta[k][i]]), silent: true });

    const cx = left + width / 2;
    graphic.push(richGroup(titlePieces(r2First[k], r2PDelta[k]), cx, row === 0 ? 22 : 342, 'center', 0, '#000'));
    graphic.push(richGroup(xLabelPieces[col], cx, top + rowHeight + 57, 'center'));
    graphic.push(richGroup(yLabelPieces[row], left - yLabelOffset[col], top + rowHeight / 2, 'center', Math.PI / 2));
  }
  graphic.push(richGroup(captions[0], 77, 316, 'left', 0, '#000'));
  graphic.push(richGroup(captions[1], 77, 608, 'left', 0, '#000'));

  const lineIcon = 'path://M0,0H40V2H0Z';
  const legendItems = (names: string[]) => [
    { name: names[0], icon: 'circle', itemStyle: { color: 'rgba(0,0,0,0)', borderColor: BLUE_PT, borderWidth: 1.5 } },
    { name: names[1], icon: 'circle', itemStyle: { color: 'rgba(0,0,0,0)', borderColor: RED_PT, borderWidth: 1.5 } },
    { name: names[2], icon: lineIcon, itemStyle: { color: BLUE_LN, borderWidth: 0 } },
    { name: names[3], icon: lineIcon, itemStyle: { color: PINK_LN, borderWidth: 0 } },
  ];
  const legendCommon = {
    orient: 'vertical', itemWidth: 38, itemHeight: 6, itemGap: 5, backgroundColor: '#fff',
    padding: [2, 5, 0, 5], selectedMode: false,
    textStyle: { fontFamily: SERIF, fontSize: 15, color: TXT },
  };
  const legend = [
    { ...legendCommon, left: 1062, top: 128, data: legendItems(topNames) },
    { ...legendCommon, left: 1077, top: 448, itemWidth: 40, itemGap: 4, data: legendItems(botNames) },
  ];

  return { animation: false, backgroundColor: '#fff', grid, xAxis, yAxis, series, legend, graphic };
}

export default function App() {
  const ref = useRef<HTMLDivElement>(null);
  useEffect(() => {
    document.body.style.margin = '0';
    const chart = echarts.init(ref.current!, null, { renderer: 'svg' });
    chart.setOption(buildOption() as any);
    return () => chart.dispose();
  }, []);
  return <div ref={ref} style={{ width: 1181, height: 633 }} />;
}
